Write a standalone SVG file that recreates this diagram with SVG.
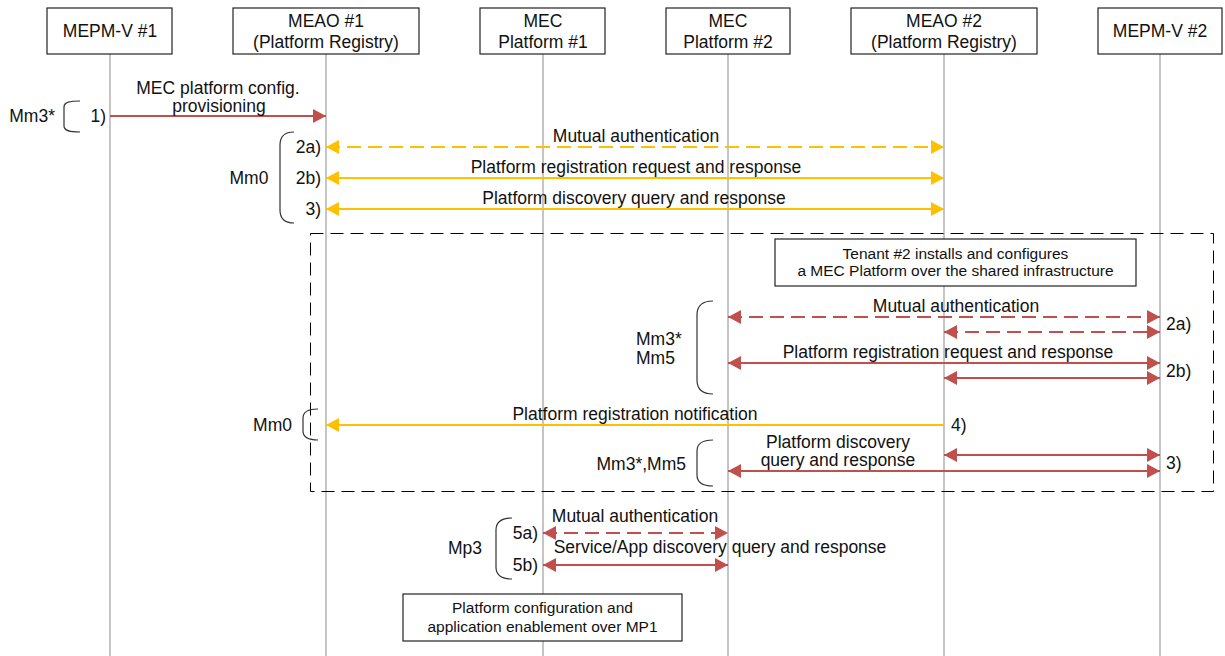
<svg xmlns="http://www.w3.org/2000/svg" width="1225" height="656" viewBox="0 0 1225 656">
  <style>
    text { font-family: "Liberation Sans", Arial, sans-serif; fill: #111; }
    .lbl { font-size: 17.5px; }
    .note { font-size: 15.5px; }
    .mid { text-anchor: middle; }
    .end { text-anchor: end; }
    .box { fill: #fff; stroke: #222; stroke-width: 1.2; }
    .life { stroke: #a6a6a6; stroke-width: 1.3; }
    .frame { fill: none; stroke: #000; stroke-width: 1; stroke-dasharray: 13 7; }
    .brace { fill: none; stroke: #333; stroke-width: 1.2; }
    .red { stroke: #c0504d; stroke-width: 2; fill: none; }
    .yel { stroke: #ffc000; stroke-width: 2; fill: none; }
    .dash { stroke-dasharray: 14 7; }
  </style>
  <defs>
    <marker id="hr" markerUnits="userSpaceOnUse" markerWidth="14" markerHeight="14" refX="13" refY="7" orient="auto-start-reverse">
      <path d="M0,0 L13,7 L0,14 Z" fill="#c0504d"/>
    </marker>
    <marker id="hy" markerUnits="userSpaceOnUse" markerWidth="14" markerHeight="14" refX="13" refY="7" orient="auto-start-reverse">
      <path d="M0,0 L13,7 L0,14 Z" fill="#ffc000"/>
    </marker>
  </defs>

  <rect width="1225" height="656" fill="#fff"/>

  <!-- lifelines -->
  <g id="lifelines">
    <line class="life" x1="110" y1="54" x2="110" y2="656"/>
    <line class="life" x1="326" y1="54" x2="326" y2="656"/>
    <line class="life" x1="543" y1="54" x2="543" y2="656"/>
    <line class="life" x1="728" y1="54" x2="728" y2="656"/>
    <line class="life" x1="944" y1="54" x2="944" y2="656"/>
    <line class="life" x1="1160" y1="54" x2="1160" y2="656"/>
  </g>

  <!-- tenant #2 frame -->
  <rect class="frame" x="310.5" y="233.5" width="903" height="258"/>

  <!-- participants -->
  <g id="mepm-v-1">
    <rect class="box" x="47" y="8" width="125" height="46"/>
    <text class="lbl mid" x="110" y="37">MEPM-V #1</text>
  </g>
  <g id="meao-1">
    <rect class="box" x="233" y="8" width="186" height="46"/>
    <text class="lbl mid" x="326" y="27">MEAO #1</text>
    <text class="lbl mid" x="326" y="48">(Platform Registry)</text>
  </g>
  <g id="mec-platform-1">
    <rect class="box" x="480" y="8" width="125" height="46"/>
    <text class="lbl mid" x="543" y="27">MEC</text>
    <text class="lbl mid" x="543" y="48">Platform #1</text>
  </g>
  <g id="mec-platform-2">
    <rect class="box" x="666" y="8" width="124" height="46"/>
    <text class="lbl mid" x="728" y="27">MEC</text>
    <text class="lbl mid" x="728" y="48">Platform #2</text>
  </g>
  <g id="meao-2">
    <rect class="box" x="851" y="8" width="186" height="46"/>
    <text class="lbl mid" x="944" y="27">MEAO #2</text>
    <text class="lbl mid" x="944" y="48">(Platform Registry)</text>
  </g>
  <g id="mepm-v-2">
    <rect class="box" x="1098" y="8" width="124" height="46"/>
    <text class="lbl mid" x="1160" y="37">MEPM-V #2</text>
  </g>

  <!-- notes -->
  <g id="note-tenant">
    <rect class="box" x="775" y="239" width="361" height="47"/>
    <text class="note mid" x="955.5" y="259">Tenant #2 installs and configures</text>
    <text class="note mid" x="955.5" y="276">a MEC Platform over the shared infrastructure</text>
  </g>
  <g id="note-mp1">
    <rect class="box" x="403" y="594" width="279" height="47"/>
    <text class="note mid" x="542.5" y="613">Platform configuration and</text>
    <text class="note mid" x="542.5" y="632">application enablement over MP1</text>
  </g>

  <!-- reference point braces -->
  <g id="braces">
    <path class="brace" d="M80,101 C70,101 64,102 64,107 L64,126 C64,131 70,132 80,132"/>
    <path class="brace" d="M294,132 C284,132 280,137 280,145 L280,210 C280,218 284,223 294,223"/>
    <path class="brace" d="M318,409 C308,409 303,412 303,418 L303,431 C303,437 308,440 318,440"/>
    <path class="brace" d="M713,301 C702,301 697,306 697,315 L697,380 C697,389 702,394 713,394"/>
    <path class="brace" d="M713,440 C702,440 697,444 697,451 L697,475 C697,482 702,486 713,486"/>
    <path class="brace" d="M512,518 C501,518 496,522 496,530 L496,567 C496,575 501,579 512,579"/>
    <text class="lbl end" x="55" y="122">Mm3*</text>
    <text class="lbl mid" x="249" y="184">Mm0</text>
    <text class="lbl" x="636" y="345">Mm3*</text>
    <text class="lbl" x="636" y="364">Mm5</text>
    <text class="lbl end" x="292" y="431">Mm0</text>
    <text class="lbl end" x="686" y="470">Mm3*,Mm5</text>
    <text class="lbl" x="448" y="554">Mp3</text>
  </g>

  <!-- connectors -->
  <g id="connectors">
    <line class="red" x1="110" y1="116" x2="326" y2="116" marker-end="url(#hr)"/>
    <line class="yel dash" x1="326" y1="147" x2="944" y2="147" marker-start="url(#hy)" marker-end="url(#hy)"/>
    <line class="yel" x1="326" y1="178" x2="944" y2="178" marker-start="url(#hy)" marker-end="url(#hy)"/>
    <line class="yel" x1="326" y1="209" x2="944" y2="209" marker-start="url(#hy)" marker-end="url(#hy)"/>

    <line class="red dash" x1="728" y1="317" x2="1160" y2="317" marker-start="url(#hr)" marker-end="url(#hr)"/>
    <line class="red dash" x1="944" y1="332" x2="1160" y2="332" marker-start="url(#hr)" marker-end="url(#hr)"/>
    <line class="red" x1="728" y1="363" x2="1160" y2="363" marker-start="url(#hr)" marker-end="url(#hr)"/>
    <line class="red" x1="944" y1="378" x2="1160" y2="378" marker-start="url(#hr)" marker-end="url(#hr)"/>
    <line class="yel" x1="944" y1="425" x2="326" y2="425" marker-end="url(#hy)"/>
    <line class="red" x1="944" y1="455" x2="1160" y2="455" marker-start="url(#hr)" marker-end="url(#hr)"/>
    <line class="red" x1="728" y1="471" x2="1160" y2="471" marker-start="url(#hr)" marker-end="url(#hr)"/>

    <line class="red dash" x1="543" y1="533" x2="728" y2="533" marker-start="url(#hr)" marker-end="url(#hr)"/>
    <line class="red" x1="543" y1="565" x2="728" y2="565" marker-start="url(#hr)" marker-end="url(#hr)"/>

    <!-- message labels -->
    <text class="lbl mid" x="218" y="94">MEC platform config.</text>
    <text class="lbl mid" x="219" y="112">provisioning</text>
    <text class="lbl end" x="106" y="122">1)</text>

    <text class="lbl mid" x="636" y="142">Mutual authentication</text>
    <text class="lbl mid" x="636" y="173">Platform registration request and response</text>
    <text class="lbl mid" x="634" y="204">Platform discovery query and response</text>
    <text class="lbl end" x="321" y="153">2a)</text>
    <text class="lbl end" x="321" y="184">2b)</text>
    <text class="lbl end" x="321" y="215">3)</text>

    <text class="lbl mid" x="956" y="312">Mutual authentication</text>
    <text class="lbl mid" x="948" y="358">Platform registration request and response</text>
    <text class="lbl mid" x="635" y="420">Platform registration notification</text>
    <text class="lbl mid" x="838" y="448">Platform discovery</text>
    <text class="lbl mid" x="838" y="466">query and response</text>
    <text class="lbl" x="1166" y="330">2a)</text>
    <text class="lbl" x="1166" y="377">2b)</text>
    <text class="lbl" x="951" y="431">4)</text>
    <text class="lbl" x="1166" y="469">3)</text>

    <text class="lbl mid" x="635" y="522">Mutual authentication</text>
    <text class="lbl mid" x="720" y="553">Service/App discovery query and response</text>
    <text class="lbl end" x="538" y="539">5a)</text>
    <text class="lbl end" x="538" y="571">5b)</text>
  </g>
</svg>
